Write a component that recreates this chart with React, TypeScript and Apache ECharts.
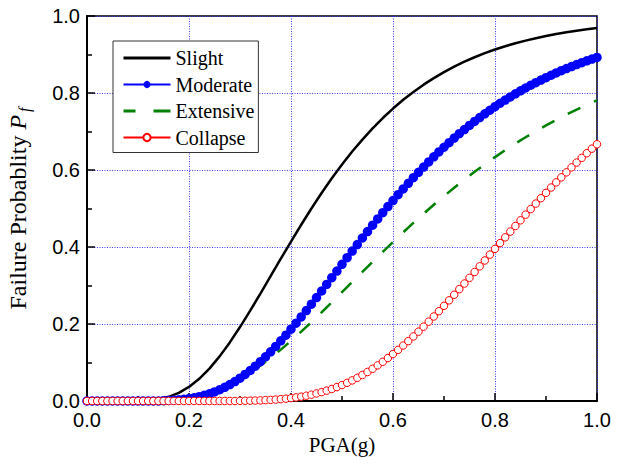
import React, { useEffect, useRef } from "react";
import * as echarts from "echarts";

// x grid for the marker series (step 0.01)
const pgaFine = [
  0.0, 0.01, 0.02, 0.03, 0.04, 0.05, 0.06, 0.07, 0.08, 0.09,
  0.1, 0.11, 0.12, 0.13, 0.14, 0.15, 0.16, 0.17, 0.18, 0.19,
  0.2, 0.21, 0.22, 0.23, 0.24, 0.25, 0.26, 0.27, 0.28, 0.29,
  0.3, 0.31, 0.32, 0.33, 0.34, 0.35, 0.36, 0.37, 0.38, 0.39,
  0.4, 0.41, 0.42, 0.43, 0.44, 0.45, 0.46, 0.47, 0.48, 0.49,
  0.5, 0.51, 0.52, 0.53, 0.54, 0.55, 0.56, 0.57, 0.58, 0.59,
  0.6, 0.61, 0.62, 0.63, 0.64, 0.65, 0.66, 0.67, 0.68, 0.69,
  0.7, 0.71, 0.72, 0.73, 0.74, 0.75, 0.76, 0.77, 0.78, 0.79,
  0.8, 0.81, 0.82, 0.83, 0.84, 0.85, 0.86, 0.87, 0.88, 0.89,
  0.9, 0.91, 0.92, 0.93, 0.94, 0.95, 0.96, 0.97, 0.98, 0.99,
  1.0,
];

// x grid for the plain line series (step 0.02)
const pgaCoarse = [
  0.0, 0.02, 0.04, 0.06, 0.08, 0.1, 0.12, 0.14, 0.16, 0.18,
  0.2, 0.22, 0.24, 0.26, 0.28, 0.3, 0.32, 0.34, 0.36, 0.38,
  0.4, 0.42, 0.44, 0.46, 0.48, 0.5, 0.52, 0.54, 0.56, 0.58,
  0.6, 0.62, 0.64, 0.66, 0.68, 0.7, 0.72, 0.74, 0.76, 0.78,
  0.8, 0.82, 0.84, 0.86, 0.88, 0.9, 0.92, 0.94, 0.96, 0.98,
  1.0,
];

const slightP = [
  0, 0, 0, 0, 0, 0, 0, 0.0046, 0.0108, 0.0211,
  0.0366, 0.0576, 0.0841, 0.1159, 0.1522, 0.1921, 0.2346, 0.279, 0.3242, 0.3696,
  0.4141, 0.4578, 0.5, 0.5402, 0.5785, 0.6144, 0.648, 0.679, 0.7082, 0.735,
  0.7596, 0.7823, 0.8028, 0.8217, 0.8387, 0.8543, 0.8684, 0.8814, 0.8929, 0.9034,
  0.9129, 0.9215, 0.9292, 0.9361, 0.9424, 0.948, 0.9531, 0.9578, 0.9619, 0.9656,
  0.969,
];

const moderateP = [
  0, 0, 0, 0, 0, 0, 0, 0, 0, 0,
  0, 0, 0, 0, 0, 0.0008, 0.0013, 0.002, 0.003, 0.0044,
  0.0062, 0.0084, 0.0113, 0.0147, 0.0188, 0.0236, 0.0292, 0.0355, 0.0426, 0.0506,
  0.0594, 0.0689, 0.0792, 0.0903, 0.1022, 0.1147, 0.1278, 0.1417, 0.1562, 0.1711,
  0.1864, 0.2021, 0.2183, 0.2348, 0.2515, 0.2686, 0.2857, 0.3029, 0.3202, 0.3375,
  0.3549, 0.3722, 0.3893, 0.4063, 0.4234, 0.4401, 0.4566, 0.4729, 0.4892, 0.505,
  0.5206, 0.5359, 0.5508, 0.5655, 0.58, 0.5939, 0.6076, 0.621, 0.6341, 0.6468,
  0.6591, 0.6711, 0.6829, 0.6942, 0.7051, 0.7157, 0.7261, 0.7363, 0.746, 0.7552,
  0.7645, 0.7734, 0.7817, 0.7899, 0.7979, 0.8056, 0.813, 0.8201, 0.8269, 0.8337,
  0.8399, 0.8461, 0.8522, 0.8579, 0.8634, 0.8687, 0.8739, 0.8788, 0.8835, 0.888,
  0.8925,
];

const extensiveP = [
  0, 0, 0, 0, 0, 0, 0, 0, 0.0026, 0.0051,
  0.0091, 0.0148, 0.0224, 0.0322, 0.044, 0.0581, 0.0742, 0.0922, 0.112, 0.1335,
  0.1562, 0.1801, 0.2047, 0.2303, 0.2562, 0.2826, 0.3089, 0.3354, 0.3617, 0.3874,
  0.4129, 0.438, 0.4625, 0.4864, 0.5096, 0.5323, 0.5537, 0.575, 0.5952, 0.6145,
  0.6335, 0.6514, 0.6686, 0.6851, 0.7009, 0.7157, 0.7301, 0.7438, 0.7568, 0.7692,
  0.7811,
];

const collapseP = [
  0, 0, 0, 0, 0, 0, 0, 0, 0, 0,
  0, 0, 0, 0, 0, 0, 0, 0, 0, 0,
  0, 0, 0, 0, 0, 0, 0, 0, 0, 0,
  0.0004, 0.0006, 0.0009, 0.0012, 0.0016, 0.0022, 0.0029, 0.0037, 0.0048, 0.006,
  0.0075, 0.0093, 0.0113, 0.0137, 0.0164, 0.0195, 0.023, 0.0269, 0.0312, 0.0361,
  0.0414, 0.0472, 0.0535, 0.0602, 0.0676, 0.0754, 0.0837, 0.0926, 0.1019, 0.1117,
  0.122, 0.1328, 0.144, 0.1556, 0.1677, 0.1801, 0.193, 0.2061, 0.2195, 0.2332,
  0.2472, 0.2614, 0.2759, 0.2905, 0.3051, 0.3199, 0.335, 0.3498, 0.365, 0.3802,
  0.3951, 0.4102, 0.425, 0.44, 0.4546, 0.4693, 0.484, 0.4984, 0.5128, 0.5267,
  0.5406, 0.5545, 0.5678, 0.5809, 0.5939, 0.6068, 0.6194, 0.6316, 0.6436, 0.6554,
  0.6668,
];

const seriesNames = ["Slight", "Moderate", "Extensive", "Collapse"];

const pair = (xs: number[], ys: number[]) => xs.map((x, i) => [x, ys[i]]);

const SERIF = "'Liberation Serif', 'Times New Roman', serif";
const SANS = "'Liberation Sans', Arial, sans-serif";

export default function App() {
  const ref = useRef<HTMLDivElement>(null);

  useEffect(() => {
    if (!ref.current) return;
    const chart = echarts.init(ref.current, null, { renderer: "svg" });

    const axisCommon = {
      type: "value" as const,
      min: 0,
      max: 1,
      interval: 0.2,
      axisLine: { show: true, onZero: false, lineStyle: { color: "#000", width: 2 } },
      axisTick: { show: true, inside: true, length: 8, lineStyle: { color: "#000", width: 1.5 } },
      minorTick: { show: true, splitNumber: 2, length: 5, lineStyle: { color: "#000", width: 1.5 } },
      splitLine: { show: true, lineStyle: { color: "#2a2aff", type: [1, 1.5], width: 1, opacity: 0.9 } },
      axisLabel: {
        formatter: (v: number) => v.toFixed(1),
        fontFamily: SANS,
        fontSize: 20,
        color: "#000",
      },
    };

    chart.setOption({
      animation: false,
      backgroundColor: "#fff",
      grid: {
        left: 87,
        right: 24,
        top: 16,
        bottom: 63,
        show: true,
        borderColor: "#000",
        borderWidth: 1.5,
        outerBoundsMode: "none",
        containLabel: false,
      },
      legend: {
        orient: "vertical",
        left: 113,
        top: 41,
        padding: [7, 4, 5, 9],
        itemGap: 6.5,
        itemWidth: 47,
        itemHeight: 9,
        borderColor: "#333",
        borderWidth: 1,
        backgroundColor: "#fff",
        textStyle: { fontFamily: SERIF, fontSize: 20, color: "#000" },
        data: [
          { name: seriesNames[0], itemStyle: { opacity: 0 }, lineStyle: { width: 3 } },
          { name: seriesNames[1] },
          { name: seriesNames[2], itemStyle: { opacity: 0 }, lineStyle: { width: 3, type: [12, 18, 17, 10] } },
          { name: seriesNames[3] },
        ],
      },
      xAxis: {
        ...axisCommon,
        axisLabel: { ...axisCommon.axisLabel, margin: 9 },
        name: "PGA(g)",
        nameLocation: "middle",
        nameGap: 30,
        nameTextStyle: { fontFamily: SERIF, fontSize: 21, color: "#000" },
      },
      yAxis: {
        ...axisCommon,
        axisLabel: { ...axisCommon.axisLabel, margin: 7 },
        name: "{a|Failure Probablity }{b|P}{c|f}",
        nameLocation: "middle",
        nameRotate: 90,
        nameGap: 55,
        nameTextStyle: {
          fontFamily: SERIF,
          fontSize: 24,
          color: "#000",
          rich: {
            a: { fontFamily: SERIF, fontSize: 24, color: "#000", lineHeight: 28, verticalAlign: "middle" },
            b: { fontFamily: SERIF, fontSize: 24, fontStyle: "italic", color: "#000", lineHeight: 28, verticalAlign: "middle" },
            c: { fontFamily: SERIF, fontSize: 16, fontStyle: "italic", color: "#000", lineHeight: 16, verticalAlign: "bottom", padding: [0, 0, 0, 3] },
          },
        },
      },
      series: [
        {
          name: "Slight",
          type: "line",
          data: pair(pgaCoarse, slightP),
          symbol: "none",
          showSymbol: false,
          lineStyle: { color: "#000", width: 2.5 },
          itemStyle: { color: "#000" },
        },
        {
          name: "Moderate",
          type: "line",
          data: pair(pgaFine, moderateP),
          symbol: "circle",
          symbolSize: 9.5,
          showSymbol: true,
          showAllSymbol: true,
          lineStyle: { color: "#0000ff", width: 1 },
          itemStyle: { color: "#0000ff" },
        },
        {
          name: "Extensive",
          type: "line",
          data: pair(pgaCoarse, extensiveP),
          symbol: "none",
          showSymbol: false,
          lineStyle: { color: "#008000", width: 2.5, type: [14, 15] },
          itemStyle: { color: "#008000" },
        },
        {
          name: "Collapse",
          type: "line",
          data: pair(pgaFine, collapseP),
          symbol: "circle",
          symbolSize: 7.5,
          showSymbol: true,
          showAllSymbol: true,
          lineStyle: { color: "#ff0000", width: 3 },
          itemStyle: { color: "#fff", borderColor: "#ff0000", borderWidth: 1 },
        },
      ],
    });

    return () => chart.dispose();
  }, []);

  return (
    <div
      ref={ref}
      style={{ position: "fixed", left: 0, top: 0, width: 621, height: 464, background: "#fff" }}
    />
  );
}
